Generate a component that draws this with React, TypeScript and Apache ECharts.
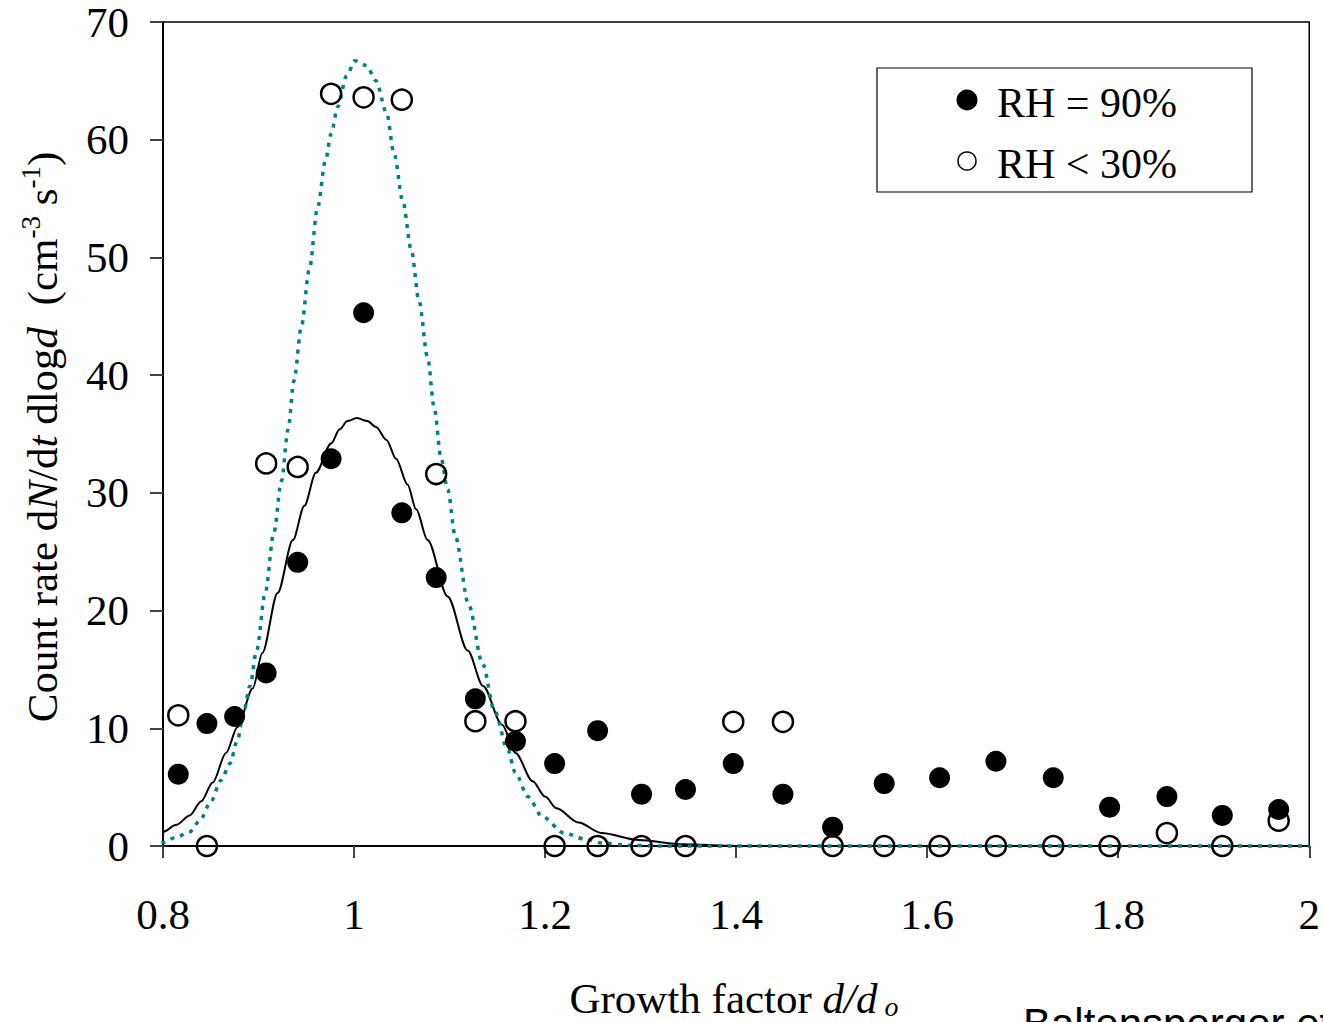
import React, { useEffect, useRef } from "react";
import * as echarts from "echarts";

// Measured growth factors (shared by both data sets)
const growthFactors = [0.816, 0.846, 0.875, 0.908, 0.941, 0.976, 1.010, 1.050, 1.086, 1.127, 1.169, 1.210, 1.255, 1.301, 1.347, 1.397, 1.449, 1.501, 1.555, 1.613, 1.672, 1.732, 1.791, 1.851, 1.909, 1.968];
// RH = 90% (filled)
const rh90 = [6.1, 10.4, 11.0, 14.7, 24.1, 32.9, 45.3, 28.3, 22.8, 12.5, 8.9, 7.0, 9.8, 4.4, 4.8, 7.0, 4.4, 1.6, 5.3, 5.8, 7.2, 5.8, 3.3, 4.2, 2.6, 3.1];
// RH < 30% (open)
const rh30 = [11.1, 0, null, 32.5, 32.2, 63.9, 63.6, 63.4, 31.6, 10.6, 10.6, 0, 0, 0, 0, 10.55, 10.55, 0, 0, 0, 0, 0, 0, 1.1, 0, 2.15];

// Fitted curve, RH = 90% (solid black)
const fit90X = [0.787, 0.8, 0.814, 0.828, 0.84, 0.852, 0.866, 0.878, 0.894, 0.904, 0.92, 0.936, 0.948, 0.96, 0.976, 0.985, 0.993, 1.003, 1.014, 1.023, 1.034, 1.044, 1.056, 1.065, 1.077, 1.098, 1.119, 1.135, 1.155, 1.169, 1.187, 1.2, 1.212, 1.235, 1.259, 1.298, 1.345, 1.4, 2.0];
const fit90Y = [0.7, 1.2, 1.8, 2.6, 3.8, 5.4, 7.9, 10.1, 13.4, 16.4, 21.5, 26.0, 28.9, 31.7, 34.2, 35.4, 36.1, 36.35, 36.1, 35.6, 34.5, 32.9, 30.7, 28.6, 26.0, 21.2, 16.6, 13.6, 10.3, 7.9, 5.5, 4.2, 3.2, 2.0, 1.1, 0.5, 0.15, 0, 0];

// Fitted curve, RH < 30% (teal dotted)
const fit30X = [0.788, 0.8, 0.814, 0.828, 0.839, 0.849, 0.861, 0.87, 0.878, 0.884, 0.891, 0.898, 0.907, 0.916, 0.924, 0.931, 0.937, 0.945, 0.953, 0.962, 0.97, 0.976, 0.983, 0.992, 1.001, 1.013, 1.023, 1.034, 1.042, 1.051, 1.06, 1.068, 1.077, 1.084, 1.091, 1.098, 1.106, 1.12, 1.1345, 1.147, 1.161, 1.169, 1.182, 1.197, 1.22, 1.241, 1.26, 1.29, 1.32, 2.0];
const fit30Y = [0.1, 0.3, 0.75, 1.2, 2.2, 3.6, 5.6, 7.0, 9.0, 11.2, 13.6, 16.6, 21.5, 26.6, 31.0, 35.4, 39.5, 44.2, 48.9, 54.3, 58.2, 60.5, 62.8, 65.4, 66.7, 66.3, 65.0, 62.3, 58.8, 54.8, 50.6, 46.3, 41.5, 37.2, 33.0, 30.3, 26.3, 20.5, 15.5, 11.5, 8.15, 6.2, 4.2, 2.5, 1.1, 0.6, 0.25, 0.05, 0, 0];

const xTicks = { min: 0.8, max: 2, interval: 0.2 };
const yTicks = { min: 0, max: 70, interval: 10 };

const SERIF = "'Liberation Serif', 'Times New Roman', serif";
const SANS = "'Liberation Sans', Arial, sans-serif";

export default function App() {
  const ref = useRef<HTMLDivElement>(null);
  useEffect(() => {
    document.body.style.margin = "0";
    document.body.style.overflow = "hidden";
    const chart = echarts.init(ref.current!, undefined, { renderer: "svg" });
    const pts90 = growthFactors.map((x, i) => [x, rh90[i]]);
    const pts30 = growthFactors
      .map((x, i) => [x, rh30[i]])
      .filter((p) => p[1] !== null);
    const line90 = fit90X.map((x, i) => [x, fit90Y[i]]);
    const line30 = fit30X.map((x, i) => [x, fit30Y[i]]);

    chart.setOption({
      animation: false,
      grid: { left: 163, right: 12, top: 22, bottom: 176, show: true, borderColor: "#000", borderWidth: 1.5 },
      xAxis: {
        type: "value",
        min: xTicks.min,
        max: xTicks.max,
        interval: xTicks.interval,
        axisLine: { onZero: false, lineStyle: { color: "#000", width: 2 } },
        axisTick: { show: true, length: 12, lineStyle: { color: "#444", width: 2 } },
        splitLine: { show: false },
        axisLabel: {
          margin: 68,
          verticalAlign: "middle",
          fontSize: 43,
          fontFamily: SERIF,
          color: "#000",
          formatter: (v: number) => String(+v.toFixed(1)),
        },
      },
      yAxis: {
        type: "value",
        min: yTicks.min,
        max: yTicks.max,
        interval: yTicks.interval,
        axisLine: { show: true, lineStyle: { color: "#000", width: 2 } },
        axisTick: { show: true, length: 13, lineStyle: { color: "#444", width: 2 } },
        splitLine: { show: false },
        axisLabel: { margin: 34, fontSize: 43, fontFamily: SERIF, color: "#000" },
      },
      series: [
        {
          type: "line",
          data: line90,
          showSymbol: false,
          symbol: "none",
          smooth: 0.3,
          smoothMonotone: "x",
          clip: false,
          lineStyle: { color: "#000", width: 2 },
          z: 2,
        },
        {
          type: "line",
          data: line30,
          showSymbol: false,
          symbol: "none",
          smooth: 0.3,
          smoothMonotone: "x",
          clip: false,
          lineStyle: { color: "#008080", width: 3.5, type: [4, 6], cap: "butt" },
          z: 3,
        },
        {
          type: "scatter",
          data: pts90,
          symbol: "circle",
          symbolSize: 21,
          clip: false,
          itemStyle: { color: "#000", opacity: 1 },
          z: 4,
        },
        {
          type: "scatter",
          data: pts30,
          symbol: "circle",
          symbolSize: 20,
          clip: false,
          itemStyle: { color: "rgba(0,0,0,0)", borderColor: "#000", borderWidth: 2.5, opacity: 1 },
          z: 5,
        },
      ],
      graphic: [
        {
          type: "text",
          x: 42,
          y: 437,
          rotation: Math.PI / 2,
          style: {
            text: "{n|Count rate d}{i|N}{n|/d}{i|t}{n| dlog}{i|d}{n|  (cm}{s|-3}{n| s}{s|-1}{n|)}",
            align: "center",
            verticalAlign: "middle",
            fill: "#000",
            rich: {
              n: { fontSize: 43, fontFamily: SERIF, lineHeight: 50, verticalAlign: "middle", fill: "#000" },
              i: { fontSize: 43, fontFamily: SERIF, fontStyle: "italic", lineHeight: 50, verticalAlign: "middle", fill: "#000" },
              s: { fontSize: 27, fontFamily: SERIF, lineHeight: 28, verticalAlign: "top", fill: "#000" },
            },
          },
        },
        {
          type: "text",
          x: 734,
          y: 998,
          style: {
            text: "{n|Growth factor }{i|d/d}{sb| o}",
            align: "center",
            verticalAlign: "middle",
            fill: "#000",
            rich: {
              n: { fontSize: 43, fontFamily: SERIF, lineHeight: 44, verticalAlign: "middle", fill: "#000" },
              i: { fontSize: 43, fontFamily: SERIF, fontStyle: "italic", lineHeight: 44, verticalAlign: "middle", fill: "#000" },
              sb: { fontSize: 28, fontFamily: SERIF, fontStyle: "italic", lineHeight: 22, verticalAlign: "bottom", fill: "#000" },
            },
          },
        },
        {
          type: "text",
          x: 1023,
          y: 1002,
          style: {
            text: "Baltensperger et al.",
            font: `42px ${SANS}`,
            fill: "#000",
            align: "left",
            verticalAlign: "top",
          },
        },
        {
          type: "rect",
          shape: { x: 877, y: 68, width: 375, height: 124 },
          style: { fill: "#fff", stroke: "#000", lineWidth: 1.2 },
          z: 10,
        },
        {
          type: "circle",
          shape: { cx: 967, cy: 100, r: 10.5 },
          style: { fill: "#000" },
          z: 11,
        },
        {
          type: "circle",
          shape: { cx: 967, cy: 161, r: 9 },
          style: { fill: "none", stroke: "#000", lineWidth: 1.5 },
          z: 11,
        },
        {
          type: "text",
          x: 997,
          y: 103,
          style: { text: "RH = 90%", font: `42px ${SERIF}`, fill: "#000", align: "left", verticalAlign: "middle" },
          z: 11,
        },
        {
          type: "text",
          x: 997,
          y: 164,
          style: { text: "RH < 30%", font: `42px ${SERIF}`, fill: "#000", align: "left", verticalAlign: "middle" },
          z: 11,
        },
      ],
    });
    return () => chart.dispose();
  }, []);
  return <div ref={ref} style={{ width: 1323, height: 1022 }} />;
}
